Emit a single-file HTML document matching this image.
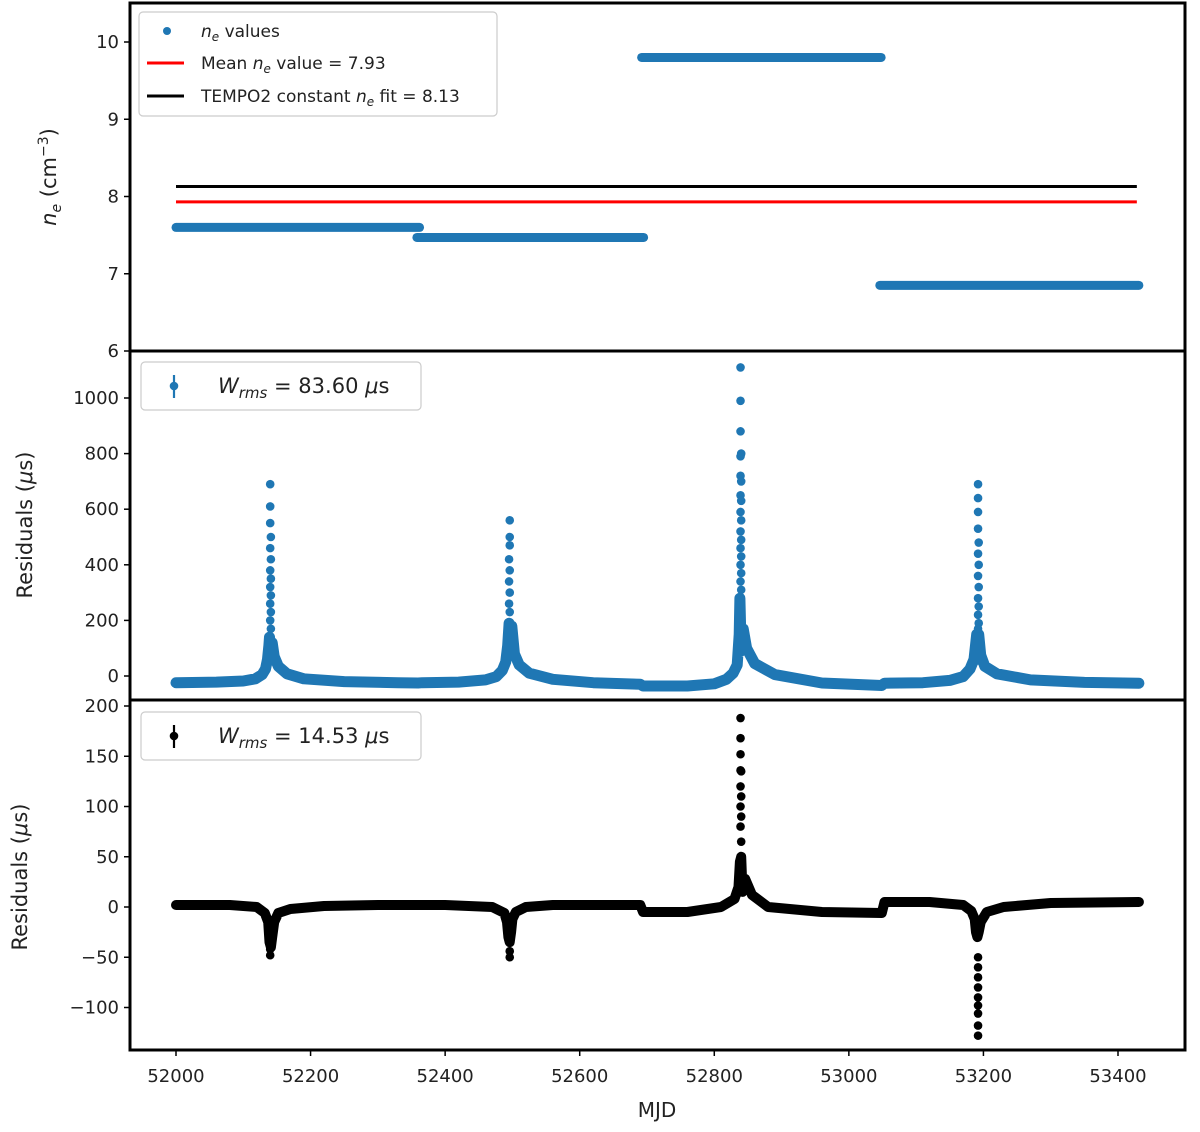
<!DOCTYPE html>
<html><head><meta charset="utf-8"><style>
body{margin:0;background:#fff;}
svg text{font-family:"DejaVu Sans","Liberation Sans",sans-serif;fill:#222;}
</style></head><body>
<svg id="fig" width="1200" height="1127" viewBox="0 0 1200 1127" xmlns="http://www.w3.org/2000/svg"></svg>
<script>
// ---- data ----
const neStart = [52000, 52358, 52692, 53046];
const neEnd   = [52362, 52695, 53048, 53431];
const neVal   = [7.6, 7.47, 9.8, 6.85];
const meanNe = 7.93, tempoNe = 8.13, lineStart = 52000, lineEnd = 53428;
const xTicks = [52000,52200,52400,52600,52800,53000,53200,53400];
const neTicks = [6,7,8,9,10];
const midTicks = [0,200,400,600,800,1000];
const botTicks = [-100,-50,0,50,100,150,200];
// middle residual band (connected dense points)
const midBandMjd = [52000,52060,52100,52118,52128,52133,52136,52138,52139,52141,52143,52146,52152,52165,52190,52250,52330,52360,52366,52420,52460,52476,52485,52490,52493,52495,52497,52499,52503,52510,52525,52560,52620,52690,52694,52760,52800,52818,52828,52834,52837,52838,52840,52843,52848,52860,52890,52960,53049,53053,53110,53150,53170,53180,53186,53190,53191,53193,53196,53202,53220,53270,53350,53431];
const midBandVal = [-24,-22,-18,-10,5,25,60,110,140,60,120,70,35,8,-10,-20,-24,-25,-24,-22,-14,-2,20,50,110,190,120,180,80,40,10,-12,-24,-30,-36,-36,-28,-12,10,40,150,280,90,170,100,45,5,-25,-34,-26,-24,-16,-2,25,60,150,60,150,75,35,8,-14,-23,-26];
// middle isolated high points
const midPeakMjd = [52140,52140,52140,52141,52140,52141,52140,52141,52140,52141,52140,52141,52140,52141,
 52496,52496,52496,52495,52496,52495,52496,52495,52496,
 52839,52839,52839,52839,52840,52839,52840,52839,52840,52839,52840,52839,52840,52839,52840,52839,52840,52839,52840,
 53192,53192,53192,53192,53193,53192,53193,53192,53193,53192,53193,53192,53193,53192];
const midPeakVal = [690,610,550,500,460,420,380,350,320,290,260,230,200,170,
 560,500,470,420,380,340,300,260,230,
 1110,990,880,790,800,720,700,650,630,590,560,520,490,460,430,400,370,340,310,
 690,640,590,530,480,440,400,360,320,280,250,220,190,170];
// bottom residual band
const botBandMjd = [52000,52080,52120,52132,52137,52139,52141,52143,52146,52152,52170,52220,52300,52400,52470,52488,52492,52494,52496,52498,52500,52505,52520,52560,52690,52694,52760,52810,52830,52836,52838,52840,52842,52846,52856,52880,52960,53049,53053,53120,53170,53182,53187,53189,53191,53193,53196,53205,53230,53300,53431];
const botBandVal = [2,2,0,-6,-15,-35,-40,-30,-15,-6,-2,1,2,2,0,-6,-15,-30,-35,-25,-12,-5,0,2,2,-5,-5,0,8,20,45,50,15,28,12,0,-5,-6,5,5,2,-4,-12,-25,-30,-25,-15,-5,0,4,5];
const botPeakMjd = [52140,52140,52496,52496,52839,52839,52839,52839,52840,52839,52840,52839,52840,52839,52840,53192,53192,53192,53192,53192,53192,53192,53192,53192];
const botPeakVal = [-48,-42,-50,-44,188,168,152,136,135,120,110,100,90,80,65,-128,-118,-106,-98,-90,-80,-70,-60,-50];

const NS='http://www.w3.org/2000/svg';
const svg=document.getElementById('fig');
function mk(tag,attrs,parent){const e=document.createElementNS(NS,tag);for(const k in attrs)e.setAttribute(k,attrs[k]);(parent||svg).appendChild(e);return e;}
const L=130,R=1185;
function X(m){return 176+(m-52000)*(1118-176)/1400;}
const Ytop=v=>351-(v-6)*(351-42)/4;
const Ymid=v=>676-v*(676-398)/1000;
const Ybot=v=>907-v*(907-706)/200;
const blue='#1f77b4';

function yAxis(ticks,Y,name,fmt){
  const g=mk('g',{});
  
  
  ticks.forEach(t=>{const y=Y(t);
    mk('line',{x1:L-6,x2:L,y1:y,y2:y,stroke:'#000','stroke-width':1.5},g);
    const tx=mk('text',{x:L-11,y:y+6,'text-anchor':'end','font-size':18},g);
    tx.textContent=fmt?fmt(t):String(t);
  });
}
function ylabel(txt,x,y,name){
  const t=mk('text',{x:x,y:y,'text-anchor':'middle','font-size':21,transform:`rotate(-90 ${x} ${y})`});
  
  
  t.innerHTML=txt;
}
const minus=t=>t<0?'\u2212'+(-t):String(t);

// ---- top panel ----
const gTop=mk('g',{});


neVal.forEach((v,i)=>{
  const l=mk('line',{x1:X(neStart[i]),x2:X(neEnd[i]),y1:Ytop(v),y2:Ytop(v),stroke:blue,'stroke-width':9,'stroke-linecap':'round'},gTop);
  
  
});
const tl=mk('line',{x1:X(lineStart),x2:X(lineEnd),y1:Ytop(tempoNe),y2:Ytop(tempoNe),stroke:'#000','stroke-width':3},gTop);


const ml=mk('line',{x1:X(lineStart),x2:X(lineEnd),y1:Ytop(meanNe),y2:Ytop(meanNe),stroke:'#ff0000','stroke-width':3},gTop);



// ---- residual panels ----
function resid(bm,bv,pm,pv,Y,color,name,w){
  const g=mk('g',{});
  
  
  const pts=bm.map((m,i)=>X(m).toFixed(1)+','+Y(bv[i]).toFixed(1)).join(' ');
  const pl=mk('polyline',{points:pts,fill:'none',stroke:color,'stroke-width':w,'stroke-linejoin':'round','stroke-linecap':'round'},g);
  
  
  pm.forEach((m,i)=>{
    const c=mk('circle',{cx:X(m),cy:Y(pv[i]),r:4.3,fill:color},g);
    
    
  });
}
resid(midBandMjd,midBandVal,midPeakMjd,midPeakVal,Ymid,blue,'prefit-residuals',11);
resid(botBandMjd,botBandVal,botPeakMjd,botPeakVal,Ybot,'#000','postfit-residuals',10);

// ---- frames ----
[[3,351],[351,700],[700,1050]].forEach((p,i)=>{
  const r=mk('rect',{x:L,y:p[0],width:R-L,height:p[1]-p[0],fill:'none',stroke:'#000','stroke-width':3});
  
  
});
yAxis(neTicks,Ytop,'ne-y-axis');
yAxis(midTicks,Ymid,'prefit-y-axis');
yAxis(botTicks,Ybot,'postfit-y-axis',minus);
const gx=mk('g',{});


xTicks.forEach(t=>{const x=X(t);
  mk('line',{x1:x,x2:x,y1:1050,y2:1056,stroke:'#000','stroke-width':1.5},gx);
  const tx=mk('text',{x:x,y:1082,'text-anchor':'middle','font-size':18},gx);tx.textContent=t;});
const xl=mk('text',{x:657,y:1117,'text-anchor':'middle','font-size':20});


xl.textContent='MJD';
ylabel('<tspan font-style="italic">n</tspan><tspan font-style="italic" font-size="14" dy="5">e</tspan><tspan dy="-5"> (cm</tspan><tspan font-size="14" dy="-8">\u22123</tspan><tspan dy="8">)</tspan>',56,177,'ne-y-axis-title');
ylabel('Residuals (<tspan font-style="italic">\u03bc</tspan>s)',32,525,'prefit-y-axis-title');
ylabel('Residuals (<tspan font-style="italic">\u03bc</tspan>s)',27,877,'postfit-y-axis-title');

// ---- legends ----
function box(x,y,w,h,name){const r=mk('rect',{x:x,y:y,width:w,height:h,rx:4,fill:'#fff','fill-opacity':0.85,stroke:'#ccc','stroke-width':1.2});
  }
box(139,12,358,104,'ne-legend');
const e1=mk('circle',{cx:167,cy:31,r:4,fill:blue});

let t=mk('text',{x:201,y:37,'font-size':17});t.innerHTML='<tspan font-style="italic">n</tspan><tspan font-style="italic" font-size="12" dy="4">e</tspan><tspan dy="-4"> values</tspan>';

mk('line',{x1:147,x2:184,y1:63,y2:63,stroke:'#ff0000','stroke-width':3});
t=mk('text',{x:201,y:69,'font-size':17});t.innerHTML='Mean <tspan font-style="italic">n</tspan><tspan font-style="italic" font-size="12" dy="4">e</tspan><tspan dy="-4"> value = 7.93</tspan>';

mk('line',{x1:147,x2:184,y1:96,y2:96,stroke:'#000','stroke-width':3});
t=mk('text',{x:201,y:102,'font-size':17});t.innerHTML='TEMPO2 constant <tspan font-style="italic">n</tspan><tspan font-style="italic" font-size="12" dy="4">e</tspan><tspan dy="-4"> fit = 8.13</tspan>';


function wleg(y,color,val,name){
  box(141,y,280,48,name);
  mk('line',{x1:174,x2:174,y1:y+13,y2:y+36,stroke:color,'stroke-width':2.2});
  mk('circle',{cx:174,cy:y+24,r:4.3,fill:color});
  const tt=mk('text',{x:218,y:y+31,'font-size':21});
  tt.innerHTML='<tspan font-style="italic">W</tspan><tspan font-style="italic" font-size="15" dy="5">rms</tspan><tspan dy="-5"> = '+val+' </tspan><tspan font-style="italic">\u03bc</tspan>s';
  
}
wleg(362,blue,'83.60','prefit-legend');
wleg(712,'#000','14.53','postfit-legend');
</script>
</body></html>
